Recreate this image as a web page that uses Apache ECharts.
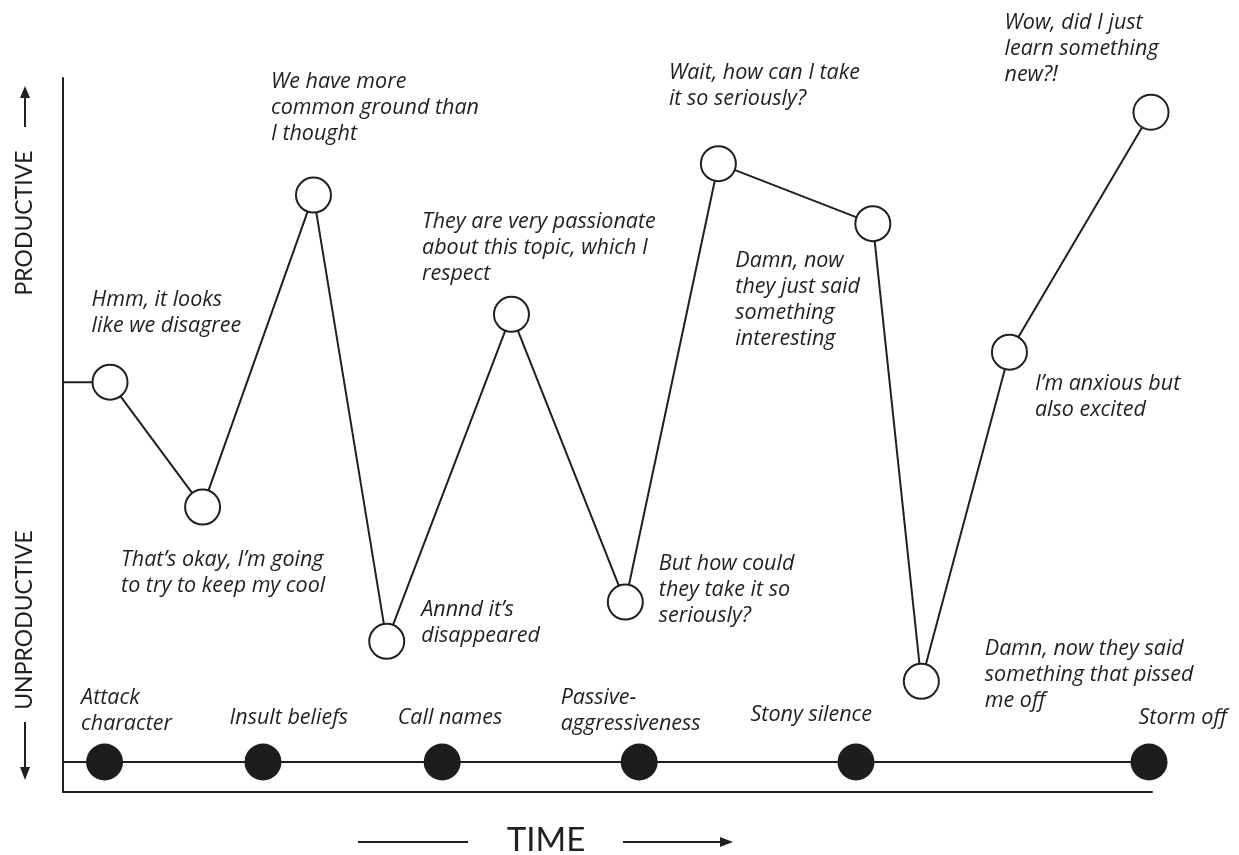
<!DOCTYPE html>
<html><head><meta charset="utf-8">
<script src="https://cdn.jsdelivr.net/npm/echarts@6/dist/echarts.min.js"></script>
<style>html,body{margin:0;padding:0;background:#fff}#c{width:1239px;height:855px}</style>
</head><body><div id="c"></div>
<script>
// ---- data ----
const moments = [
  "Hmm, it looks\nlike we disagree",
  "That\u2019s okay, I\u2019m going\nto try to keep my cool",
  "We have more\ncommon ground than\nI thought",
  "Annnd it\u2019s\ndisappeared",
  "They are very passionate\nabout this topic, which I\nrespect",
  "But how could\nthey take it so\nseriously?",
  "Wait, how can I take\nit so seriously?",
  "Damn, now\nthey just said\nsomething\ninteresting",
  "Damn, now they said\nsomething that pissed\nme off",
  "I\u2019m anxious but\nalso excited",
  "Wow, did I just\nlearn something\nnew?!"
];
const momentTime = [4.75, 14.1, 25.3, 32.7, 45.3, 56.8, 66.2, 81.8, 86.7, 95.6, 109.9];
const momentMood = [57.4, 39.9, 83.6, 21.1, 66.9, 26.6, 88.0, 79.6, 15.5, 61.6, 95.2];
const startTime = 0;
const startMood = 57.4;

const behaviours = ["Attack\ncharacter", "Insult beliefs", "Call names", "Passive-\naggressiveness", "Stony silence", "Storm off"];
const behaviourTime = [4.2, 20.2, 38.3, 58.2, 80.1, 109.7];
const behaviourLevel = 4.2;

const yNameUp = "PRODUCTIVE";
const yNameDown = "UNPRODUCTIVE";
const xName = "TIME";

// ---- layout (label offsets in px, relative to the marker box) ----
const momentLabelPos = [[0,-77],[-63,58],[-24,-108],[53,-26],[-71,-87],[52,-33],[-31,-85],[-119,43],[82,-27],[44,37],[-128,-84]];
const behaviourLabelPos = [[-5,-59],[-15,-39],[-26,-39],[-60,-59],[-87,-42],[8,-39]];

const INK = '#231f20';
const annoFont = {fontFamily: 'Open Sans', fontStyle: 'italic', fontSize: 21.5, lineHeight: 26, color: INK};

const momentData = [{value: [startTime, startMood], symbol: 'none', label: {show: false}}].concat(
  momentTime.map((t, i) => ({
    value: [t, momentMood[i]],
    label: Object.assign({show: true, formatter: moments[i], position: momentLabelPos[i], align: 'left', verticalAlign: 'top'}, annoFont)
  }))
);
const behaviourData = [{value: [startTime, behaviourLevel], symbol: 'none', label: {show: false}}].concat(
  behaviourTime.map((t, i) => ({
    value: [t, behaviourLevel],
    label: Object.assign({show: true, formatter: behaviours[i], position: behaviourLabelPos[i], align: 'left', verticalAlign: 'top'}, annoFont)
  }))
);

const chart = echarts.init(document.getElementById('c'), null, {renderer: 'canvas'});
chart.setOption({
  backgroundColor: '#fff',
  animation: false,
  grid: {left: 63, top: 78, right: 87, bottom: 63},
  xAxis: {type: 'value', min: 0, max: 110, axisLine: {show: true, lineStyle: {color: INK, width: 2}}, axisTick: {show: false}, axisLabel: {show: false}, splitLine: {show: false}},
  yAxis: {type: 'value', min: 0, max: 100, axisLine: {show: true, lineStyle: {color: INK, width: 2}}, axisTick: {show: false}, axisLabel: {show: false}, splitLine: {show: false}},
  series: [
    {
      type: 'line', name: 'behaviours', data: behaviourData, clip: false, z: 2,
      symbol: 'circle', symbolSize: 37,
      lineStyle: {color: INK, width: 2},
      itemStyle: {color: '#1e1c1d', borderWidth: 0}
    },
    {
      type: 'line', name: 'moments', data: momentData, clip: false, z: 3,
      symbol: 'circle', symbolSize: 35,
      lineStyle: {color: INK, width: 2},
      itemStyle: {color: '#fff', borderColor: INK, borderWidth: 2}
    }
  ],
  graphic: [
    {type: 'text', x: 25, y: 223, rotation: Math.PI / 2, style: {text: yNameUp, font: '23px Lato', fill: INK, align: 'center', verticalAlign: 'middle'}},
    {type: 'line', shape: {x1: 25, y1: 127, x2: 25, y2: 94}, style: {stroke: INK, lineWidth: 2}},
    {type: 'polygon', shape: {points: [[25, 86], [20, 98], [30, 98]]}, style: {fill: INK}},
    {type: 'text', x: 25, y: 620, rotation: Math.PI / 2, style: {text: yNameDown, font: '23px Lato', fill: INK, align: 'center', verticalAlign: 'middle'}},
    {type: 'line', shape: {x1: 25, y1: 722, x2: 25, y2: 770}, style: {stroke: INK, lineWidth: 2}},
    {type: 'polygon', shape: {points: [[25, 780], [20, 767], [30, 767]]}, style: {fill: INK}},
    {type: 'text', x: 546, y: 840, style: {text: xName, font: '33px Lato', fill: INK, align: 'center', verticalAlign: 'middle'}},
    {type: 'line', shape: {x1: 358, y1: 842, x2: 468, y2: 842}, style: {stroke: INK, lineWidth: 2}},
    {type: 'line', shape: {x1: 623, y1: 842, x2: 724, y2: 842}, style: {stroke: INK, lineWidth: 2}},
    {type: 'polygon', shape: {points: [[733, 842], [720, 837], [720, 847]]}, style: {fill: INK}}
  ]
});
</script>
</body></html>
